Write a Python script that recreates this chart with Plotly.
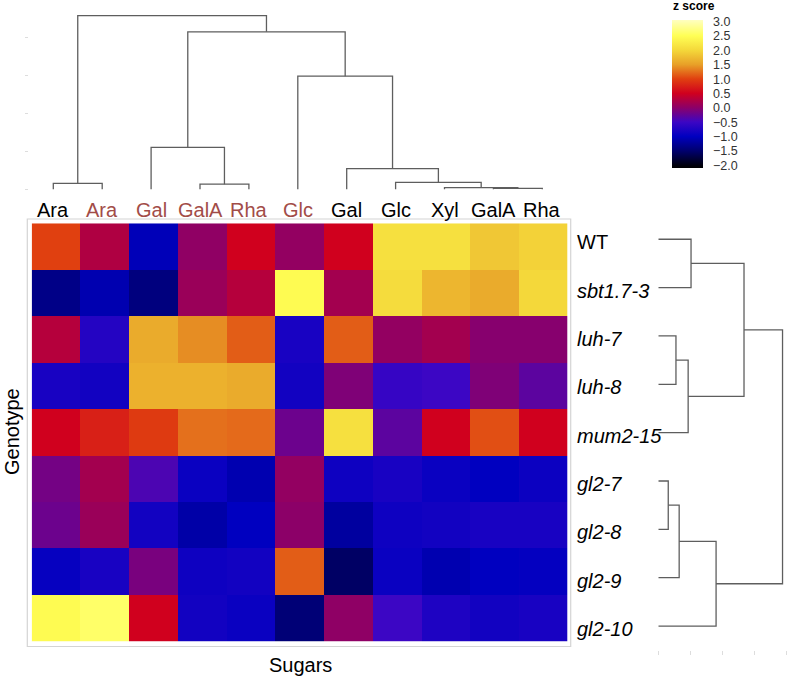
import plotly.graph_objects as go

# ---------------- data ----------------
sugars = ["Ara", "Ara", "Gal", "GalA", "Rha", "Glc", "Gal", "Glc", "Xyl", "GalA", "Rha"]
sugar_colors = ["#000000", "#a24c48", "#a24c48", "#a24c48", "#a24c48", "#a24c48",
                "#000000", "#000000", "#000000", "#000000", "#000000"]
genotypes = ["WT", "sbt1.7-3", "luh-7", "luh-8", "mum2-15", "gl2-7", "gl2-8", "gl2-9", "gl2-10"]
genotype_italic = [False, True, True, True, True, True, True, True, True]

z_WT     = [1.00, 0.26, -1.05, 0.03, 0.50, 0.05, 0.50, 2.10, 2.10, 1.85, 1.95]
z_sbt    = [-1.35, -1.10, -1.40, 0.10, 0.30, 2.45, 0.17, 2.05, 1.70, 1.60, 2.00]
z_luh7   = [0.30, -0.70, 1.60, 1.40, 1.15, -0.80, 1.15, 0.05, 0.17, -0.03, -0.03]
z_luh8   = [-0.80, -0.85, 1.65, 1.65, 1.60, -0.85, -0.08, -0.55, -0.50, -0.08, -0.30]
z_mum    = [0.50, 0.75, 0.95, 1.25, 1.22, -0.20, 2.10, -0.30, 0.50, 1.08, 0.50]
z_gl27   = [-0.15, 0.17, -0.40, -0.92, -1.10, 0.05, -0.88, -0.80, -0.92, -1.00, -0.90]
z_gl28   = [-0.20, 0.10, -0.85, -1.15, -1.00, 0.00, -1.20, -0.88, -0.85, -0.80, -0.80]
z_gl29   = [-0.95, -0.80, -0.12, -0.88, -0.85, 1.15, -1.55, -0.92, -1.10, -1.00, -0.97]
z_gl210  = [2.45, 2.60, 0.50, -0.85, -0.92, -1.45, 0.02, -0.50, -0.75, -0.85, -0.80]

# column dendrogram merges: (child a, child b, height); leaves 0..10, new nodes 11..
col_merges = [(9, 10, 0.03), (8, 11, 0.05), (3, 4, 0.14), (0, 1, 0.16), (7, 12, 0.19),
              (6, 15, 0.55), (2, 13, 1.11), (5, 16, 2.99), (17, 18, 4.16), (14, 19, 4.59)]
# row dendrogram merges: leaves 0..8, new nodes 9..
row_merges = [(5, 6, 0.31), (2, 3, 0.55), (9, 7, 0.65), (10, 4, 0.93), (0, 1, 1.02),
              (11, 8, 1.80), (13, 12, 2.67), (15, 14, 3.87)]

cbar_ticks = [3.0, 2.5, 2.0, 1.5, 1.0, 0.5, 0.0, -0.5, -1.0, -1.5, -2.0]

# ---------------- styling ----------------
W, H = 789, 681
ZMIN, ZMAX = -2.1, 3.05
stops = [(-2.1, "#000000"), (-2.0, "#00000e"), (-1.5, "#00006e"), (-1.0, "#0000c0"),
         (-0.5, "#3c06c4"), (0.0, "#8c0068"), (0.5, "#d0001e"), (1.0, "#e04010"),
         (1.5, "#e8a028"), (2.0, "#f4d83a"), (2.5, "#ffff55"), (3.05, "#ffffc0")]
colorscale = [[(v - ZMIN) / (ZMAX - ZMIN), c] for v, c in stops]

FONT = "Liberation Sans, Arial, Helvetica, sans-serif"
LINE = "#5e5e5e"


def px_x(p):
    return p / W


def px_y(p):
    return 1 - p / H


def dendro(n_leaves, merges):
    pos = {i: float(i) for i in range(n_leaves)}
    hgt = {i: 0.0 for i in range(n_leaves)}
    segs = []
    nid = n_leaves
    for a, b, h in merges:
        segs.append((pos[a], hgt[a], pos[b], hgt[b], h))
        pos[nid] = (pos[a] + pos[b]) / 2
        hgt[nid] = h
        nid += 1
    return segs


z = [z_WT, z_sbt, z_luh7, z_luh8, z_mum, z_gl27, z_gl28, z_gl29, z_gl210]

fig = go.Figure()

fig.add_trace(go.Heatmap(
    z=z, x=list(range(len(sugars))), y=list(range(len(genotypes))),
    colorscale=colorscale, zmin=ZMIN, zmax=ZMAX, xgap=0, ygap=0,
    colorbar=dict(
        x=px_x(672.3), xanchor="left", xpad=0,
        y=px_y(20.3), yanchor="top", ypad=0,
        thickness=31, thicknessmode="pixels",
        len=147.6, lenmode="pixels",
        outlinewidth=0,
        tickvals=cbar_ticks, ticktext=[("%.1f" % t).replace("-", "\u2212") for t in cbar_ticks],
        ticks="outside", ticklen=8, tickcolor="rgba(0,0,0,0)",
        tickfont=dict(family=FONT, size=12.5, color="#333333"),
    ),
    hoverinfo="skip",
))

# top dendrogram
xs, ys = [], []
for xa, ha, xb, hb, h in dendro(len(sugars), col_merges):
    xs += [xa, xa, xb, xb, None]
    ys += [ha, h, h, hb, None]
fig.add_trace(go.Scatter(x=xs, y=ys, mode="lines", line=dict(color=LINE, width=1.3),
                         xaxis="x2", yaxis="y2", hoverinfo="skip", showlegend=False))

# right dendrogram
xs, ys = [], []
for ya, ha, yb, hb, h in dendro(len(genotypes), row_merges):
    xs += [ha, h, h, hb, None]
    ys += [ya, ya, yb, yb, None]
fig.add_trace(go.Scatter(x=xs, y=ys, mode="lines", line=dict(color=LINE, width=1.3),
                         xaxis="x3", yaxis="y3", hoverinfo="skip", showlegend=False))

annotations = []
for i, (s, c) in enumerate(zip(sugars, sugar_colors)):
    annotations.append(dict(x=i, y=px_y(210), xref="x2", yref="paper", text=s,
                            showarrow=False, xanchor="center", yanchor="middle",
                            font=dict(family=FONT, size=20, color=c)))
for i, (g, it) in enumerate(zip(genotypes, genotype_italic)):
    annotations.append(dict(x=px_x(575), y=i, xref="paper", yref="y3",
                            text=("<i>%s</i>" % g) if it else g, yshift=-3,
                            showarrow=False, xanchor="left", yanchor="middle",
                            font=dict(family=FONT, size=20, color="#000000")))
annotations.append(dict(x=px_x(12), y=px_y(432), xref="paper", yref="paper", text="Genotype",
                        textangle=-90, showarrow=False, xanchor="center", yanchor="middle",
                        font=dict(family=FONT, size=20, color="#000000")))
annotations.append(dict(x=px_x(300), y=px_y(665), xref="paper", yref="paper", text="Sugars",
                        showarrow=False, xanchor="center", yanchor="middle",
                        font=dict(family=FONT, size=20, color="#000000")))
annotations.append(dict(x=px_x(671), y=px_y(6), xref="paper", yref="paper", text="<b>z score</b>",
                        showarrow=False, xanchor="left", yanchor="middle",
                        font=dict(family=FONT, size=12, color="#000000")))

shapes = [dict(type="rect", xref="paper", yref="paper",
               x0=px_x(27.3), x1=px_x(570.7), y0=px_y(646.5), y1=px_y(219),
               line=dict(color="#d4d4d4", width=1.2), fillcolor="rgba(0,0,0,0)", layer="below")]

hidden = dict(showgrid=False, zeroline=False, showline=False, showticklabels=False, ticks="")

fig.update_layout(
    width=W, height=H, margin=dict(l=0, r=0, t=0, b=0),
    paper_bgcolor="white", plot_bgcolor="white", showlegend=False,
    xaxis=dict(domain=[px_x(31.7), px_x(567.4)], range=[-0.5, 10.5], anchor="y", **hidden),
    yaxis=dict(domain=[px_y(641.7), px_y(223.3)], range=[8.5, -0.5], anchor="x", **hidden),
    xaxis2=dict(domain=[px_x(28.85), px_x(566.75)], range=[-0.5, 10.5], anchor="y2", **hidden),
    yaxis2=dict(domain=[px_y(189.5), 1.0], range=[0, 5], anchor="x2",
                showgrid=False, zeroline=False, showline=False, showticklabels=False,
                ticks="outside", ticklen=3, tickcolor="#dddddd", tickvals=[0, 1, 2, 3, 4]),
    xaxis3=dict(domain=[px_x(658.3), px_x(786.7)], range=[0, 4], anchor="y3",
                showgrid=False, zeroline=False, showline=False, showticklabels=False,
                ticks="outside", ticklen=4, tickcolor="#dddddd", tickvals=[0, 1, 2, 3, 4]),
    yaxis3=dict(domain=[px_y(650.2), px_y(215.1)], range=[8.5, -0.5], anchor="x3", **hidden),
    annotations=annotations, shapes=shapes,
)

fig.write_html("out.html", config={"displayModeBar": False},
               post_script="document.body.style.margin='0';")
